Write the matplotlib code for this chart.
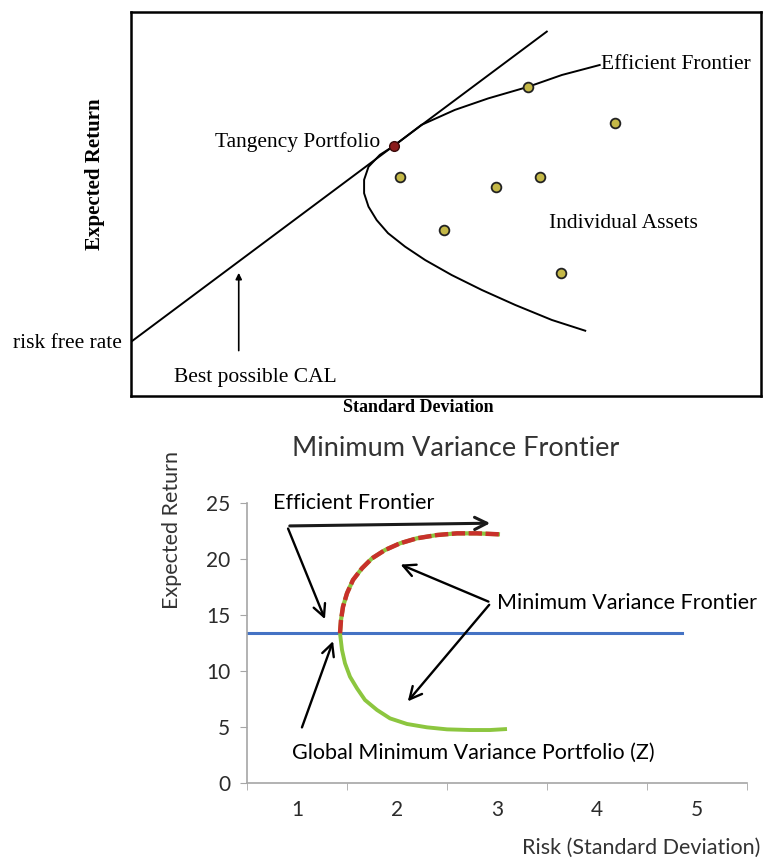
import matplotlib.pyplot as plt

# ---- top panel: CAL and efficient frontier sketch (unitless 0-10 axes) ----
cal_x = [0.0, 6.60]
cal_y = [1.41, 9.49]
frontier_x = [7.44, 6.84, 6.30, 5.67, 5.14, 4.61, 4.17, 3.95, 3.77, 3.70, 3.70,
              3.77, 3.90, 4.08, 4.35, 4.67, 5.09, 5.57, 6.10, 6.68, 7.21]
frontier_y = [8.62, 8.36, 8.05, 7.75, 7.45, 7.06, 6.51, 6.28, 5.97, 5.63, 5.28,
              4.93, 4.58, 4.24, 3.89, 3.54, 3.15, 2.76, 2.37, 1.98, 1.70]
asset_x = [4.27, 5.80, 6.49, 7.69, 4.97, 6.82, 6.30]
asset_y = [5.71, 5.43, 5.71, 7.10, 4.32, 3.21, 8.05]
tangency_x = [4.17]
tangency_y = [6.51]

# ---- bottom panel: minimum variance frontier ----
upper_x = [1.43, 1.44, 1.46, 1.50, 1.56, 1.65, 1.75, 1.88, 2.03, 2.20, 2.40,
           2.60, 2.80, 3.03]
upper_y = [13.37, 14.55, 15.74, 16.94, 18.13, 19.17, 20.06, 20.80, 21.40, 21.85,
           22.14, 22.29, 22.29, 22.20]
lower_x = [1.43, 1.45, 1.48, 1.53, 1.60, 1.68, 1.80, 1.93, 2.10, 2.30, 2.50,
           2.73, 2.93, 3.10]
lower_y = [13.37, 11.88, 10.69, 9.49, 8.45, 7.41, 6.52, 5.77, 5.27, 4.97, 4.79,
           4.73, 4.73, 4.82]
gmv_x = [0.5, 4.85]
gmv_y = [13.4, 13.4]
x_ticks = [1, 2, 3, 4, 5]
y_ticks = [0, 5, 10, 15, 20, 25]

W, H = 763, 861
fig = plt.figure(figsize=(W / 100, H / 100), dpi=100)
fig.patch.set_facecolor("white")

serif = "Liberation Serif"
sans = "Lato"

# ---------------- top ----------------
ax1 = fig.add_axes([131 / W, 1 - 396 / H, 630 / W, 384 / H])
ax1.set_xlim(0, 10)
ax1.set_ylim(0, 10)
ax1.set_xticks([])
ax1.set_yticks([])
for s in ax1.spines.values():
    s.set_linewidth(1.8)
    s.set_color("black")

ax1.plot(cal_x, cal_y, color="black", lw=1.4)
ax1.plot(frontier_x, frontier_y, color="black", lw=1.4)
ax1.plot(asset_x, asset_y, "o", ms=7, mfc="#c4b847", mec="#222222", mew=1.3)
ax1.plot(tangency_x, tangency_y, "o", ms=7, mfc="#8b1c1c", mec="#3a0a0a", mew=1.0)

ax1.annotate("", xy=(1.71, 3.28), xytext=(1.71, 1.11),
             arrowprops=dict(arrowstyle="-|>", color="black", lw=1.2, mutation_scale=9))

ax1.text(1.98, 0.47, "Best possible CAL", family=serif, fontsize=15.5, ha="center", va="center")
ax1.text(-0.14, 1.38, "risk free rate", family=serif, fontsize=15.5, ha="right", va="center",
         clip_on=False)
ax1.text(3.95, 6.62, "Tangency Portfolio", family=serif, fontsize=15.5, ha="right", va="center")
ax1.text(7.46, 8.62, "Efficient Frontier", family=serif, fontsize=15.5, ha="left", va="center")
ax1.text(7.81, 4.48, "Individual Assets", family=serif, fontsize=15.5, ha="center", va="center")

fig.text(95 / W, 1 - 174 / H, "Expected Return", family=serif, fontsize=15,
         fontweight="bold", rotation=90, ha="center", va="center")
fig.text(418 / W, 1 - 408 / H, "Standard Deviation", family=serif, fontsize=13,
         fontweight="bold", ha="center", va="center")

# ---------------- bottom ----------------
ax2 = fig.add_axes([247 / W, 1 - 783 / H, 500 / W, 280 / H])
ax2.set_xlim(0.5, 5.5)
ax2.set_ylim(0, 25)
for side in ["top", "right"]:
    ax2.spines[side].set_visible(False)
for side in ["left", "bottom"]:
    ax2.spines[side].set_color("#a6a6a6")
    ax2.spines[side].set_linewidth(1.2)

ax2.set_xticks(x_ticks)
ax2.set_xticks([0.5, 1.5, 2.5, 3.5, 4.5, 5.5], minor=True)
ax2.set_yticks(y_ticks)
ax2.tick_params(axis="x", which="major", length=0, pad=12, labelsize=15, labelcolor="#2b2b2b")
ax2.tick_params(axis="x", which="minor", length=5, color="#a6a6a6")
ax2.tick_params(axis="y", length=5, color="#a6a6a6", pad=7, labelsize=15, labelcolor="#2b2b2b")
for lab in ax2.get_xticklabels() + ax2.get_yticklabels():
    lab.set_family(sans)

ax2.plot(gmv_x, gmv_y, color="#4472c4", lw=2.2)
ax2.plot(lower_x, lower_y, color="#8cc63f", lw=2.8, solid_capstyle="butt")
ax2.plot(upper_x, upper_y, color="#8cc63f", lw=3.0, solid_capstyle="butt")
ax2.plot(upper_x, upper_y, color="#c8312b", lw=3.2, dashes=(3.0, 0.8))

arrow_kw = dict(arrowstyle="->", color="black", lw=1.7, mutation_scale=22)
ax2.annotate("", xy=(2.96, 23.2), xytext=(0.90, 22.95),
             arrowprops=dict(arrowstyle="->", color="#1a1a1a", lw=2.2, mutation_scale=22),
             annotation_clip=False)
ax2.annotate("", xy=(1.29, 14.4), xytext=(0.90, 22.95), arrowprops=arrow_kw)
ax2.annotate("", xy=(2.01, 19.6), xytext=(2.94, 16.1), arrowprops=arrow_kw)
ax2.annotate("", xy=(2.09, 7.1), xytext=(2.94, 16.1), arrowprops=arrow_kw)
ax2.annotate("", xy=(1.37, 12.9), xytext=(1.04, 4.73), arrowprops=arrow_kw)

ax2.text(1.57, 25.0, "Efficient Frontier", family=sans, fontsize=15.5, ha="center",
         va="center", clip_on=False)
ax2.text(3.00, 16.1, "Minimum Variance Frontier", family=sans, fontsize=15.5, ha="left",
         va="center", clip_on=False)
ax2.text(2.76, 2.68, "Global Minimum Variance Portfolio (Z)", family=sans, fontsize=15.5,
         ha="center", va="center")

fig.text(456 / W, 1 - 448 / H, "Minimum Variance Frontier", family=sans, fontsize=19.5,
         ha="center", va="center", color="#333333")
fig.text(171.5 / W, 1 - 530 / H, "Expected Return", family=sans, fontsize=15.5,
         rotation=90, ha="center", va="center", color="#333333")
fig.text(760 / W, 1 - 848 / H, "Risk (Standard Deviation)", family=sans, fontsize=15.5,
         ha="right", va="center", color="#333333")

fig.savefig("out.png", dpi=100, facecolor="white")
